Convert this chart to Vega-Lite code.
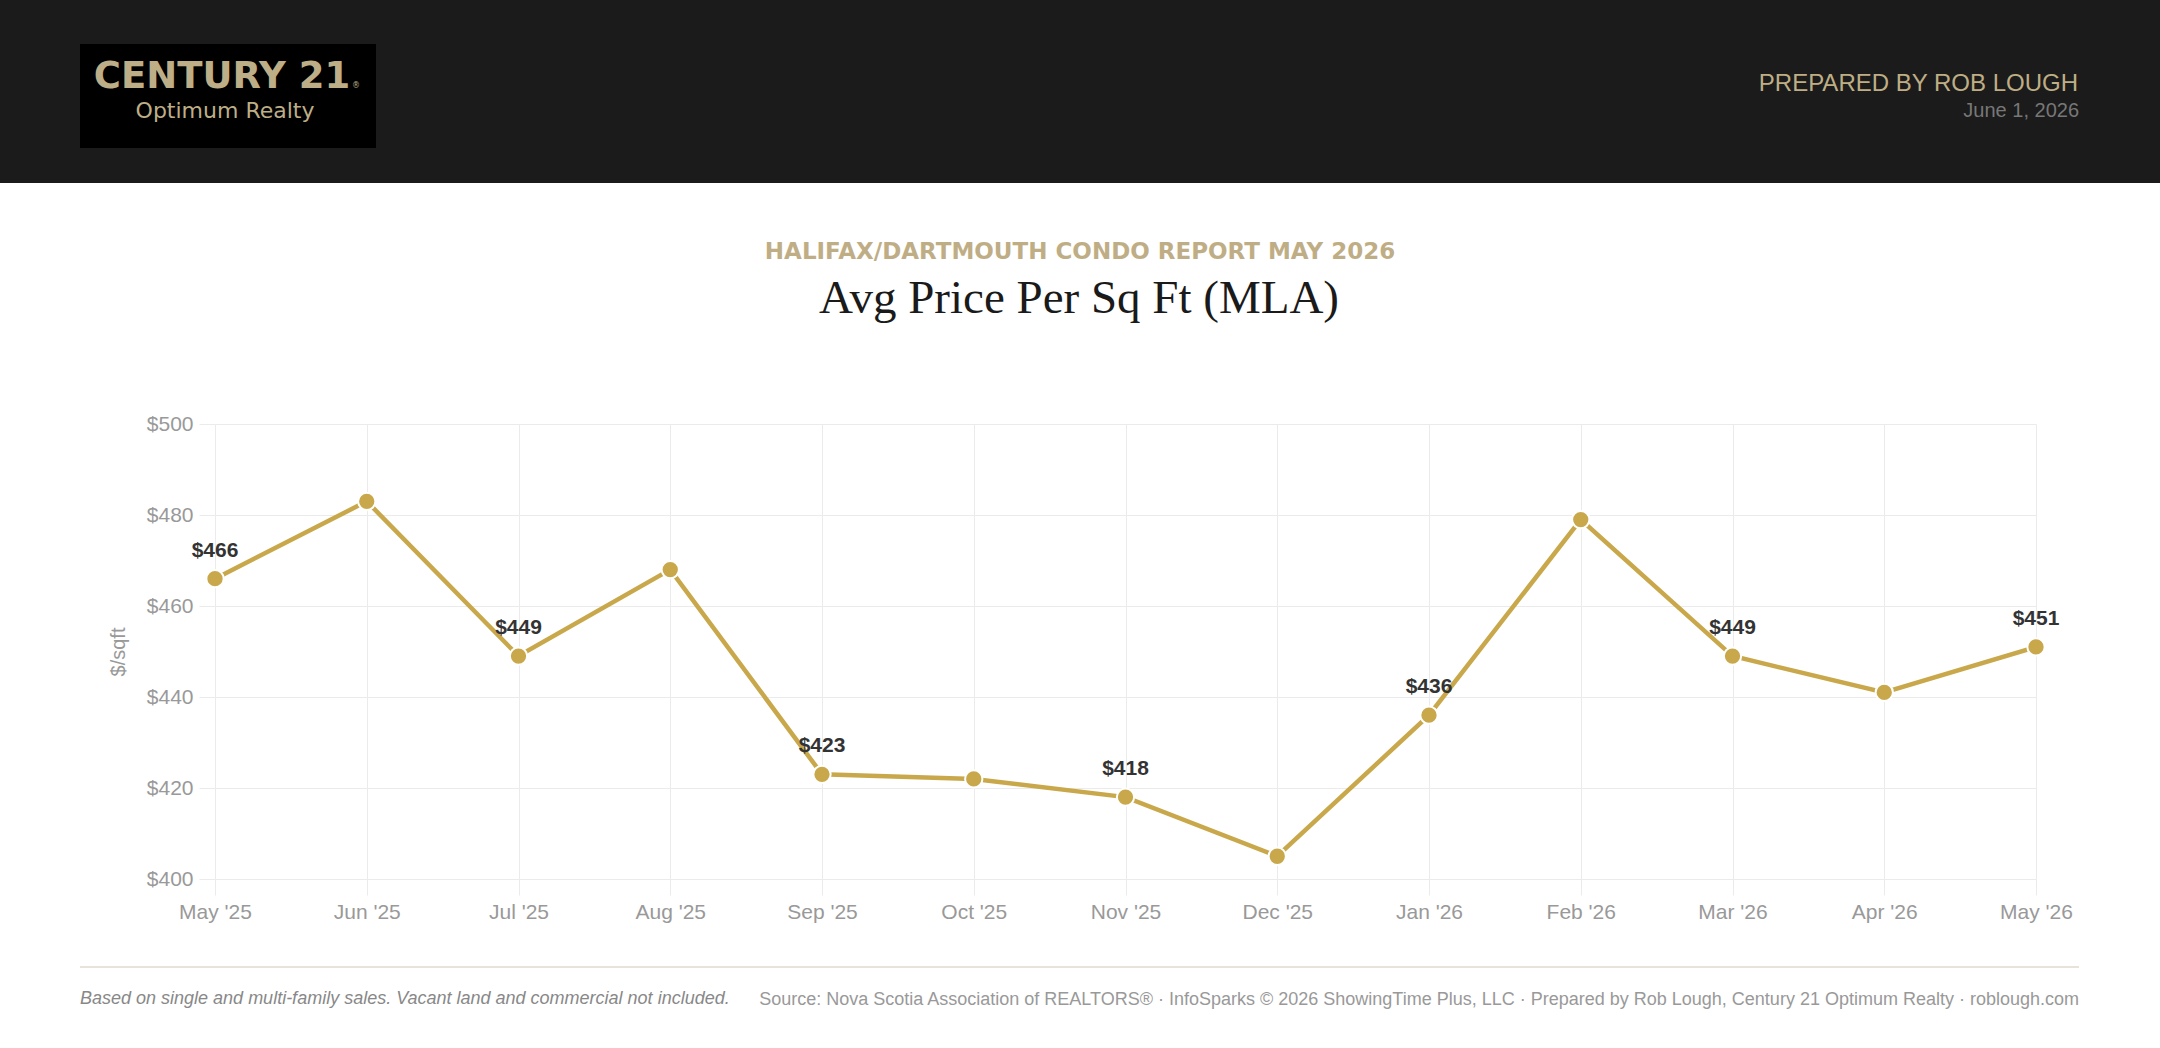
{
  "$schema": "https://vega.github.io/schema/vega-lite/v6.json",
  "width": 1821,
  "height": 455,
  "autosize": {"type": "none"},
  "padding": {"left": 215, "top": 424, "right": 124, "bottom": 169},
  "background": "#ffffff",
  "config": {"view": {"stroke": null}, "font": "Liberation Sans"},
  "datasets": {
    "prices": [
      {"month": "May '25", "price": 466},
      {"month": "Jun '25", "price": 483},
      {"month": "Jul '25", "price": 449},
      {"month": "Aug '25", "price": 468},
      {"month": "Sep '25", "price": 423},
      {"month": "Oct '25", "price": 422},
      {"month": "Nov '25", "price": 418},
      {"month": "Dec '25", "price": 405},
      {"month": "Jan '26", "price": 436},
      {"month": "Feb '26", "price": 479},
      {"month": "Mar '26", "price": 449},
      {"month": "Apr '26", "price": 441},
      {"month": "May '26", "price": 451}
    ]
  },
  "layer": [
    {
      "data": {"values": [{}]},
      "mark": {"type": "rect", "x": -215, "x2": 1945, "y": -424, "y2": -241, "fill": "#1b1b1b"}
    },
    {
      "data": {"values": [{}]},
      "mark": {"type": "rect", "x": -135, "x2": 161, "y": -380, "y2": -276, "fill": "#000000"}
    },
    {
      "data": {"values": [{}]},
      "mark": {"type": "text", "text": "CENTURY 21", "x": 7, "y": -336, "align": "center", "baseline": "alphabetic", "font": "DejaVu Sans", "fontWeight": "bold", "fontSize": 37, "color": "#bdae87"}
    },
    {
      "data": {"values": [{}]},
      "mark": {"type": "text", "text": "®", "x": 137, "y": -336, "align": "left", "baseline": "alphabetic", "font": "DejaVu Sans", "fontSize": 8, "color": "#bdae87"}
    },
    {
      "data": {"values": [{}]},
      "mark": {"type": "text", "text": "Optimum Realty", "x": 10, "y": -306, "align": "center", "baseline": "alphabetic", "font": "DejaVu Sans", "fontSize": 22, "color": "#bdae87"}
    },
    {
      "data": {"values": [{}]},
      "mark": {"type": "text", "text": "PREPARED BY ROB LOUGH", "x": 1863, "y": -333, "align": "right", "baseline": "alphabetic", "font": "Liberation Sans", "fontSize": 24, "color": "#bfae85"}
    },
    {
      "data": {"values": [{}]},
      "mark": {"type": "text", "text": "June 1, 2026", "x": 1864, "y": -307, "align": "right", "baseline": "alphabetic", "font": "Liberation Sans", "fontSize": 20, "color": "#777777"}
    },
    {
      "data": {"values": [{}]},
      "mark": {"type": "text", "text": "HALIFAX/DARTMOUTH CONDO REPORT MAY 2026", "x": 865, "y": -165, "align": "center", "baseline": "alphabetic", "font": "DejaVu Sans", "fontWeight": "bold", "fontSize": 23, "color": "#bfae85"}
    },
    {
      "data": {"values": [{}]},
      "mark": {"type": "text", "text": "Avg Price Per Sq Ft (MLA)", "x": 864, "y": -111, "align": "center", "baseline": "alphabetic", "font": "Liberation Serif", "fontSize": 47, "color": "#1a1a1a"}
    },
    {
      "data": {"values": [{}]},
      "mark": {"type": "rect", "x": -135, "x2": 1864, "y": 542, "y2": 544, "fill": "#e8e3d9"}
    },
    {
      "data": {"values": [{}]},
      "mark": {"type": "text", "text": "Based on single and multi-family sales. Vacant land and commercial not included.", "x": -135, "y": 580, "align": "left", "baseline": "alphabetic", "font": "Liberation Sans", "fontStyle": "italic", "fontSize": 18, "color": "#888888"}
    },
    {
      "data": {"values": [{}]},
      "mark": {"type": "text", "text": "Source: Nova Scotia Association of REALTORS® · InfoSparks © 2026 ShowingTime Plus, LLC · Prepared by Rob Lough, Century 21 Optimum Realty · roblough.com", "x": 1864, "y": 581, "align": "right", "baseline": "alphabetic", "font": "Liberation Sans", "fontSize": 18, "color": "#999999"}
    },
    {
      "data": {"name": "prices"},
      "mark": {"type": "line", "color": "#c9a84c", "strokeWidth": 4.5},
      "encoding": {
        "x": {
          "field": "month", "type": "ordinal", "sort": null,
          "scale": {"type": "point", "padding": 0},
          "axis": {"title": null, "labelAngle": 0, "labelFontSize": 21, "labelColor": "#999999", "labelPadding": 6, "tickSize": 16, "tickColor": "#ebebeb", "gridColor": "#ebebeb", "grid": true, "domain": false, "labelFont": "Liberation Sans"}
        },
        "y": {
          "field": "price", "type": "quantitative",
          "scale": {"domain": [400, 500], "nice": false, "zero": false},
          "axis": {"title": "$/sqft", "values": [400, 420, 440, 460, 480, 500], "format": "$,.0f", "labelFontSize": 21, "labelColor": "#999999", "labelPadding": 6, "tickSize": 16, "tickColor": "#ebebeb", "gridColor": "#ebebeb", "grid": true, "domain": false, "labelFont": "Liberation Sans", "titleFont": "Liberation Sans", "titleFontSize": 20, "titleFontWeight": "normal", "titleColor": "#999999", "titlePadding": 18}
        }
      }
    },
    {
      "data": {"name": "prices"},
      "mark": {"type": "point", "shape": "circle", "fill": "#c9a84c", "stroke": "#ffffff", "strokeWidth": 2, "size": 300, "opacity": 1, "filled": true},
      "encoding": {
        "x": {"field": "month", "type": "ordinal", "sort": null},
        "y": {"field": "price", "type": "quantitative"}
      }
    },
    {
      "data": {"name": "prices"},
      "transform": [{"window": [{"op": "row_number", "as": "rn"}]}, {"filter": "datum.rn % 2 == 1"}],
      "mark": {"type": "text", "fontWeight": "bold", "fontSize": 21, "color": "#333333", "dy": -22, "baseline": "alphabetic", "align": "center", "font": "Liberation Sans"},
      "encoding": {
        "x": {"field": "month", "type": "ordinal", "sort": null},
        "y": {"field": "price", "type": "quantitative"},
        "text": {"field": "price", "type": "quantitative", "format": "$,.0f"}
      }
    }
  ]
}
